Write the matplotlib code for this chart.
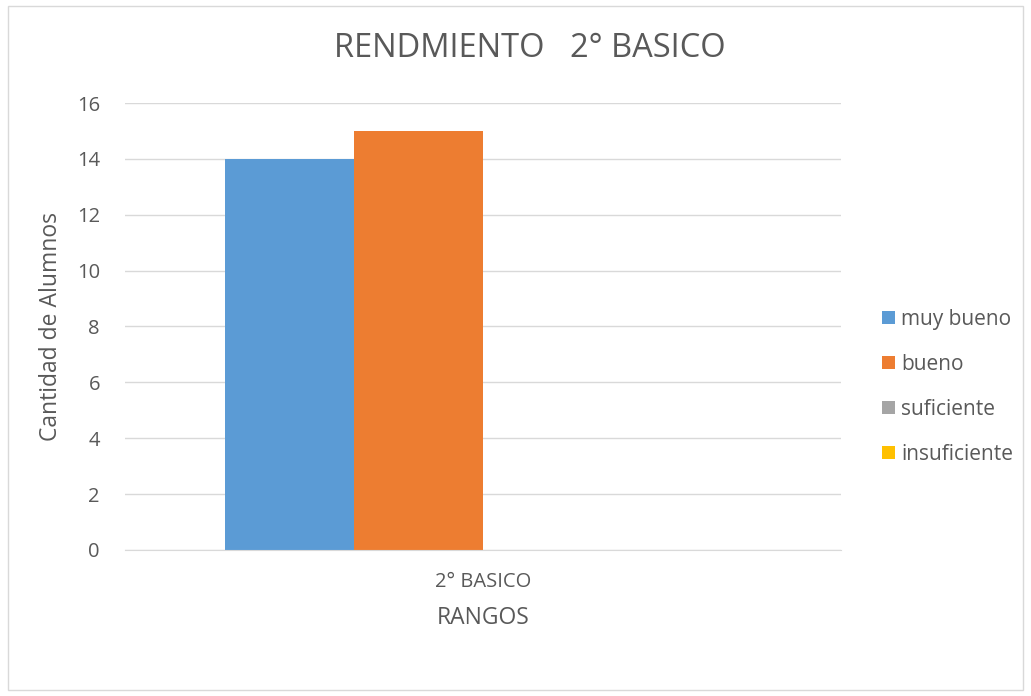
import numpy as np
import matplotlib.pyplot as plt
from matplotlib.patches import Rectangle

categories = ['2° BASICO']
series = ['muy bueno', 'bueno', 'suficiente', 'insuficiente']
values = [14, 15, 0, 0]
colors = ['#5b9bd5', '#ed7d31', '#a5a5a5', '#ffc000']

plt.rcParams['font.family'] = ['Open Sans', 'DejaVu Sans']
txt = '#595959'

fig = plt.figure(figsize=(10.31, 6.96), dpi=100)
ax = fig.add_axes([0.1212, 0.2098, 0.8157 - 0.1212, 0.852 - 0.2098])

# outer chart border
fig.patches.append(Rectangle((8 / 1031, 6 / 696), 1015 / 1031, 684 / 696,
                             transform=fig.transFigure, fill=False,
                             edgecolor='#d9d9d9', linewidth=1))

x = np.arange(len(categories))
width = 0.18
for i, (name, v, c) in enumerate(zip(series, values, colors)):
    ax.bar(x + (i - 1.5) * width, [v], width, color=c, label=name)

ax.set_xlim(-0.5, 0.5)
ax.set_ylim(0, 16)
ax.set_yticks(range(0, 17, 2))
ax.set_xticks(x)
ax.set_xticklabels(categories)
ax.grid(axis='y', color='#d9d9d9', linewidth=1)
ax.set_axisbelow(True)
for s in ['top', 'right', 'left']:
    ax.spines[s].set_visible(False)
ax.spines['bottom'].set_color('#d9d9d9')
ax.tick_params(length=0, labelsize=14.5, colors=txt, pad=18)
ax.tick_params(axis='x', pad=16)

ax.set_ylabel('Cantidad de Alumnos', fontsize=16.5, color=txt, labelpad=10)
ax.set_xlabel('RANGOS', fontsize=16.5, color=txt, labelpad=10)
fig.text(0.514, 0.931, 'RENDMIENTO   2° BASICO', ha='center', va='center',
         fontsize=23.5, color=txt)

fig.legend(loc='center left', bbox_to_anchor=(874 / 1031, 1 - 387 / 696),
           frameon=False, fontsize=15, labelcolor=txt, handlelength=0.6,
           handleheight=0.6, handletextpad=0.3, labelspacing=1.15,
           borderaxespad=0)

fig.savefig('out.png', dpi=100)
